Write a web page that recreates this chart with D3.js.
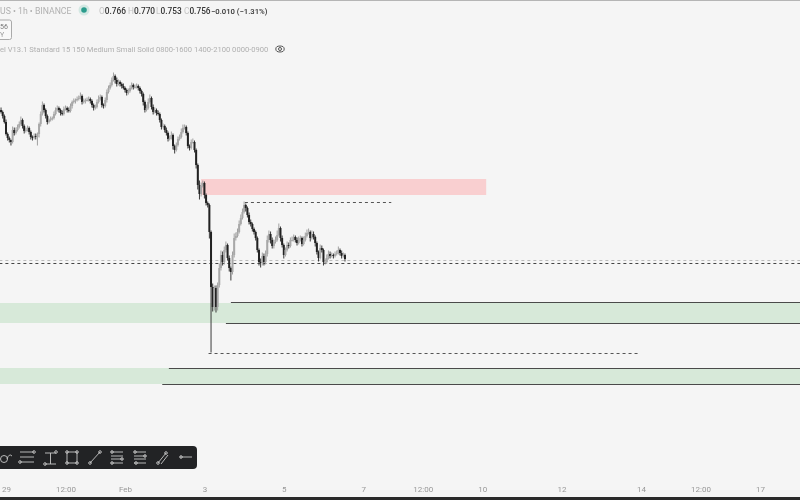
<!DOCTYPE html>
<html>
<head>
<meta charset="utf-8">
<script src="https://cdnjs.cloudflare.com/ajax/libs/d3/7.8.5/d3.min.js"></script>
<style>
    html, body { margin: 0; padding: 0; background: #f5f5f5; overflow: hidden; }
    text { font-family: "Roboto", "Liberation Sans", sans-serif; }
    svg { filter: blur(0.6px); }
</style>
</head>
<body>
<div id="chart"></div>
<script>
// prices are in thousandths (902 = 0.902), time is hours after 29 Jan 00:00
var firstHour = -3;
var closes = [
    902, 898, 892, 880, 876, 874, 872, 884, 881, 884,
    887, 890, 894, 888, 883, 884, 886, 882, 877, 876,
    878, 877, 880, 890, 900, 909, 904, 898, 892, 894,
    895, 896, 900, 904, 906, 904, 901, 900, 905, 906,
    904, 903, 908, 912, 913, 914, 915, 916, 918, 912,
    913, 914, 914, 915, 913, 909, 906, 907, 912, 915,
    917, 909, 908, 914, 922, 926, 929, 934, 938, 934,
    930, 932, 930, 928, 926, 924, 921, 923, 926, 929,
    927, 927, 928, 926, 923, 920, 912, 904, 906, 912,
    916, 907, 902, 904, 901, 900, 894, 887, 888, 884,
    881, 875, 876, 879, 868, 864, 869, 875, 877, 882,
    886, 887, 881, 868, 866, 872, 872, 864, 849, 829,
    820, 828, 831, 819, 811, 809, 782, 727, 707, 726,
    707, 729, 746, 759, 752, 764, 769, 756, 746, 742,
    759, 776, 778, 782, 790, 796, 802, 809, 806, 799,
    792, 790, 785, 782, 776, 764, 752, 751, 758, 752,
    760, 774, 780, 774, 768, 772, 774, 779, 786, 776,
    769, 759, 764, 769, 768, 774, 774, 777, 774, 771,
    774, 776, 770, 774, 778, 781, 782, 776, 780, 777,
    771, 762, 756, 766, 764, 752, 752, 756, 760, 758,
    759, 758, 760, 761, 764, 761, 758, 759, 755
];
var wickUp = [
    2, 1, 1, 2, 1, 1, 0, 3, 2, 2,
    2, 2, 3, 1, 1, 2, 2, 1, 1, 1,
    2, 2, 1, 1, 2, 3, 1, 1, 1, 1,
    2, 1, 2, 2, 2, 1, 1, 2, 2, 2,
    1, 2, 2, 1, 2, 1, 2, 2, 3, 1,
    2, 1, 2, 2, 1, 1, 1, 2, 2, 3,
    2, 1, 1, 2, 2, 2, 2, 2, 3, 1,
    2, 2, 1, 1, 2, 1, 1, 2, 2, 2,
    1, 2, 2, 1, 1, 1, 1, 1, 3, 3,
    3, 1, 2, 2, 1, 2, 1, 1, 2, 1,
    2, 1, 2, 3, 1, 1, 2, 2, 2, 3,
    3, 2, 1, 1, 1, 2, 3, 1, 1, 1,
    4, 3, 2, 1, 1, 1, 1, 1, 3, 2,
    2, 2, 4, 4, 3, 3, 3, 1, 2, 1,
    3, 4, 3, 3, 3, 3, 3, 3, 1, 1,
    2, 2, 1, 1, 1, 1, 1, 3, 3, 2,
    3, 4, 3, 2, 2, 2, 3, 4, 4, 1,
    2, 1, 2, 3, 2, 2, 3, 2, 1, 2,
    3, 2, 1, 3, 3, 3, 3, 1, 3, 2,
    1, 1, 1, 3, 2, 1, 3, 3, 3, 2,
    2, 1, 2, 2, 3, 1, 2, 2, 1
];
var wickDown = [
    1, 2, 1, 1, 2, 2, 3, 1, 2, 1,
    1, 1, 1, 2, 2, 1, 1, 2, 2, 2,
    1, 2, 8, 3, 2, 1, 2, 2, 2, 1,
    1, 1, 1, 1, 1, 2, 2, 1, 1, 1,
    2, 1, 1, 2, 1, 2, 1, 1, 1, 2,
    1, 2, 1, 1, 2, 2, 2, 1, 1, 1,
    1, 2, 2, 1, 2, 1, 1, 1, 1, 3,
    2, 1, 2, 2, 1, 2, 2, 1, 1, 1,
    2, 1, 1, 2, 2, 2, 3, 2, 1, 1,
    1, 2, 2, 1, 2, 1, 2, 2, 1, 2,
    2, 2, 1, 1, 3, 3, 1, 1, 1, 1,
    1, 1, 2, 2, 2, 1, 1, 2, 3, 4,
    5, 2, 1, 3, 2, 2, 6, 65, 4, 3,
    5, 3, 2, 2, 3, 2, 2, 2, 3, 8,
    2, 2, 2, 1, 1, 1, 1, 1, 3, 2,
    2, 2, 2, 2, 2, 2, 3, 4, 2, 3,
    2, 2, 2, 3, 2, 2, 1, 1, 1, 3,
    2, 3, 1, 1, 2, 1, 1, 1, 2, 2,
    1, 1, 2, 1, 1, 1, 1, 3, 1, 2,
    3, 2, 3, 1, 2, 3, 2, 1, 1, 2,
    1, 2, 1, 1, 1, 2, 2, 1, 2
];

// zones: start hour, end hour, top price, bottom price
var zoneStart = [118, -4, -4];
var zoneEnd = [290.4, 481, 481];
var zoneTop = [835, 711, 646];
var zoneBottom = [819, 691, 630];
var zoneFill = ["#f9cfd0", "#d7e9d9", "#d7e9d9"];

var solidStart = [136, 133, 98.5, 94.5];
var solidPrice = [712, 691, 646, 630];
var solidEnd = 481;

var dashStart = [144.5, -4, -4, 122.5];
var dashEnd = [233, 481, 481, 382.5];
var dashPrice = [812, 754, 751, 661];
var dashTone = ["#555", "#bbb", "#444", "#555"];

var tickHours = [0, 36, 72, 120, 168, 216, 252, 288, 336, 384, 420, 456];
var tickLabels = ["29", "12:00", "Feb", "3", "5", "7", "12:00", "10", "12", "14", "12:00", "17"];

var ohlcLabels = ["O", "H", "L", "C"];
var ohlcValues = ["0.766", "0.770", "0.753", "0.756"];
var ohlcX = [99, 128, 156, 184];

var width = 800, height = 500;

var x = d3.scaleLinear().domain([0, 456]).range([6, 760]);
var y = d3.scaleLinear().domain([1014, 514]).range([0, 500]);

var candles = closes.map(function(c, i) {
    var o = i === 0 ? c + 2 : closes[i - 1];
    return {
        hour: firstHour + i,
        open: o,
        close: c,
        high: Math.max(o, c) + wickUp[i],
        low: Math.min(o, c) - wickDown[i]
    };
});

var svg = d3.select("#chart").append("svg")
    .attr("width", width)
    .attr("height", height)
    .style("display", "block");

svg.append("rect").attr("width", width).attr("height", height).attr("fill", "#f5f5f5");

// frame at the top and bottom of the screenshot
svg.append("rect").attr("width", width).attr("height", 1).attr("fill", "#b5b5b5");
svg.append("rect").attr("y", 497).attr("width", width).attr("height", 3).attr("fill", "#2a2a2a");

svg.append("g").selectAll("rect")
    .data(zoneStart).enter()
    .append("rect")
    .attr("x", function(d) { return x(d); })
    .attr("width", function(d, i) { return x(zoneEnd[i]) - x(d); })
    .attr("y", function(d, i) { return y(zoneTop[i]); })
    .attr("height", function(d, i) { return y(zoneBottom[i]) - y(zoneTop[i]); })
    .attr("fill", function(d, i) { return zoneFill[i]; });

svg.append("g").selectAll("line")
    .data(solidStart).enter()
    .append("line")
    .attr("x1", function(d) { return x(d); })
    .attr("x2", x(solidEnd))
    .attr("y1", function(d, i) { return y(solidPrice[i]) + 0.5; })
    .attr("y2", function(d, i) { return y(solidPrice[i]) + 0.5; })
    .attr("stroke", "#4a4a4a")
    .attr("stroke-width", 1);

svg.append("g").selectAll("line")
    .data(dashStart).enter()
    .append("line")
    .attr("x1", function(d) { return x(d); })
    .attr("x2", function(d, i) { return x(dashEnd[i]); })
    .attr("y1", function(d, i) { return y(dashPrice[i]) + 0.5; })
    .attr("y2", function(d, i) { return y(dashPrice[i]) + 0.5; })
    .attr("stroke", function(d, i) { return dashTone[i]; })
    .attr("stroke-width", 1)
    .attr("stroke-dasharray", "3,3");

// candles
var candle = svg.append("g").selectAll("g")
    .data(candles).enter()
    .append("g");

candle.append("line")
    .attr("x1", function(d) { return x(d.hour); })
    .attr("x2", function(d) { return x(d.hour); })
    .attr("y1", function(d) { return y(d.high); })
    .attr("y2", function(d) { return y(d.low); })
    .attr("stroke", function(d) { return d.close >= d.open ? "#a0a0a0" : "#3a3a3a"; })
    .attr("stroke-linecap", "square")
    .attr("stroke-width", 1);

candle.append("rect")
    .attr("x", function(d) { return x(d.hour) - 1; })
    .attr("width", 2)
    .attr("y", function(d) { return y(Math.max(d.open, d.close)); })
    .attr("height", function(d) { return Math.max(1, Math.abs(y(d.open) - y(d.close))); })
    .attr("fill", function(d) { return d.close >= d.open ? "#a8a8a8" : "#222"; });

// time axis
var xAxis = d3.axisBottom(x)
    .tickValues(tickHours)
    .tickSize(0)
    .tickPadding(0)
    .tickFormat(function(d, i) { return tickLabels[i]; });

var axisG = svg.append("g")
    .attr("transform", "translate(0,486)")
    .call(xAxis);
axisG.select(".domain").remove();
axisG.selectAll("text")
    .attr("fill", "#999")
    .style("font-size", "8px");

// legend header
svg.append("text").attr("x", 0).attr("y", 13.5)
    .attr("fill", "#b0b0b0").style("font-size", "8.7px")
    .text("US • 1h • BINANCE");

svg.append("circle").attr("cx", 84).attr("cy", 10).attr("r", 5.5).attr("fill", "#d3e8e3");
svg.append("circle").attr("cx", 84).attr("cy", 10).attr("r", 2.8).attr("fill", "#2b9c8c");

ohlcLabels.forEach(function(lab, i) {
    var t = svg.append("text").attr("x", ohlcX[i]).attr("y", 13.5).style("font-size", "8.3px");
    t.append("tspan").attr("fill", "#c4c4c4").text(lab);
    t.append("tspan").attr("fill", "#333").style("font-weight", 500).text(ohlcValues[i]);
});
svg.append("text").attr("x", 211).attr("y", 13.5)
    .attr("fill", "#333").style("font-size", "7.7px").style("font-weight", 500)
    .text("−0.010 (−1.31%)");

svg.append("rect").attr("x", -6).attr("y", 20).attr("width", 17.5).attr("height", 19.5).attr("rx", 2)
    .attr("fill", "#f8f8f8").attr("stroke", "#aaa");
svg.append("text").attr("x", 0).attr("y", 29).attr("fill", "#777").style("font-size", "7px").text("56");
svg.append("text").attr("x", 0).attr("y", 37).attr("fill", "#999").style("font-size", "7px").text("Y");

svg.append("text").attr("x", 0).attr("y", 52)
    .attr("fill", "#b0b0b0").style("font-size", "7.6px")
    .text("el V13.1 Standard 15 150 Medium Small Solid 0800-1600 1400-2100 0000-0900");

var eye = svg.append("g").attr("transform", "translate(280,49)").attr("fill", "none").attr("stroke", "#555");
eye.append("ellipse").attr("rx", 4.2).attr("ry", 3);
eye.append("circle").attr("r", 1.5);

// drawing toolbar
svg.append("rect").attr("x", -10).attr("y", 446).attr("width", 207).attr("height", 23).attr("rx", 4)
    .attr("fill", "#222325");

var tools = svg.append("g").attr("fill", "none").attr("stroke", "#c8c8c8").attr("stroke-width", 0.9);

function dot(cx, cy) {
    tools.append("circle").attr("cx", cx).attr("cy", cy).attr("r", 1.3);
}
function seg(x1, y1, x2, y2) {
    tools.append("line").attr("x1", x1).attr("y1", y1).attr("x2", x2).attr("y2", y2);
}

// curve
tools.append("circle").attr("cx", 4).attr("cy", 459).attr("r", 3.5);
tools.append("path").attr("d", "M7 459 Q9 453 12 456");
// parallel lines
seg(20, 452, 34, 452); seg(20, 457, 34, 457); seg(20, 462, 34, 462);
dot(20, 462); dot(34, 452);
// vertical range
seg(45, 464, 56, 464); seg(45, 453, 56, 453); seg(50.5, 453, 50.5, 464);
dot(56, 452); dot(45, 464);
// rectangle
tools.append("rect").attr("x", 67).attr("y", 452).attr("width", 10).attr("height", 11);
dot(67, 452); dot(77, 452); dot(67, 463); dot(77, 463);
// trend line
seg(90, 463, 100, 452); dot(90, 463); dot(100, 452);
// two parallel pairs
seg(111, 452, 123, 452); seg(111, 456, 123, 456); seg(111, 459, 123, 459); seg(111, 463, 123, 463);
dot(112, 452); dot(122, 459); dot(112, 463);
seg(134, 452, 146, 452); seg(134, 456, 146, 456); seg(134, 459, 146, 459); seg(134, 463, 146, 463);
dot(135, 452); dot(145, 456); dot(136, 463);
// slanted pair
seg(158, 463, 166, 453); seg(161, 464, 168, 455);
dot(158, 463); dot(166, 453);
// ray
seg(180, 457, 192, 457); dot(181, 457);
</script>
</body>
</html>
